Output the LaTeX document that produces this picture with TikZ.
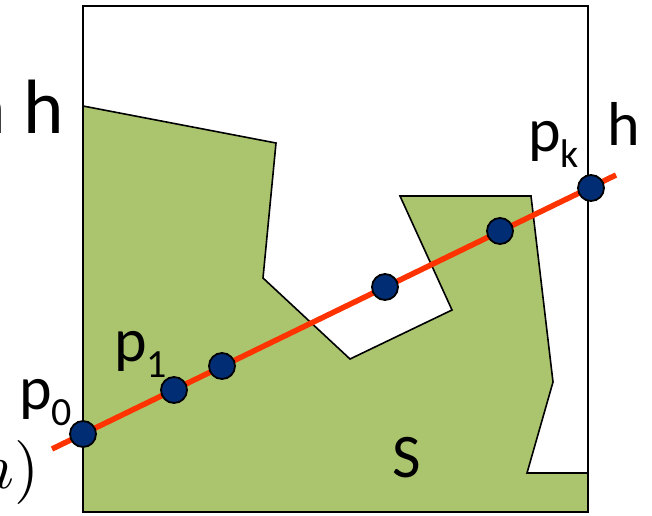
\documentclass[tikz,border=0pt]{standalone}
\usepackage{fontspec}
\setmainfont{Carlito}
\usetikzlibrary{positioning}
\definecolor{region}{RGB}{171,197,110}
\definecolor{hline}{RGB}{255,51,0}
\definecolor{ptfill}{RGB}{0,45,115}
\newcommand{\lowidx}[1]{\raisebox{-16pt}{\fontsize{40}{40}\selectfont #1}}
\tikzset{
  pt/.style={circle, draw=black, line width=1.8pt, fill=ptfill,
             minimum size=26pt, inner sep=0pt},
  lbl/.style={inner sep=0pt, anchor=base west, font=\fontsize{62}{62}\selectfont},
}
\begin{document}
\begin{tikzpicture}[x=1pt, y=-1pt]
    % --- Moldura (recorte da figura) ---
    \clip (0,0) rectangle (652,515);
    \fill[white] (0,0) rectangle (652,515);

    % --- Regiao S ---
    \fill[region] (83,106) -- (276,143) -- (263,278) -- (350,359) -- (452,310)
        -- (400,196) -- (531,196) -- (553,382) -- (527,473) -- (588,473)
        -- (588,512) -- (83,512) -- cycle;
    \draw[line width=1.6pt] (83,106) -- (276,143) -- (263,278) -- (350,359) -- (452,310)
        -- (400,196) -- (531,196) -- (553,382) -- (527,473) -- (588,473);

    % --- Caixa ---
    \draw[line width=1.6pt] (83,6) rectangle (588,512);

    % --- Reta h ---
    \coordinate (hs) at (52,449);
    \coordinate (he) at (616,175);
    \draw[hline, line width=5.5pt] (hs) -- (he);

    % --- Pontos sobre h ---
    \foreach \nm/\x/\y in {p0/83/434, p1/174/390, p2/222/366, p3/385/287,
                           p4/500/231, pk/591/188} {
      \node[pt] (\nm) at (\x,\y) {};
    }

    % --- Rotulos ---
    \node[lbl] (lp0) at (19,409) {p\lowidx{0}};
    \node[lbl] (lp1) at (114,361) {p\lowidx{1}};
    \node[lbl] (lpk) at (528,151) {p\lowidx{k}};
    \node[lbl] (lh) at (607,145) {h};
    \node[lbl] (ls) at (392,477) {S};
    \node[inner sep=0pt, anchor=base east, font=\fontsize{77}{77}\selectfont]
        (lhl) at (64,133) {n h};
    \node[inner sep=0pt, anchor=base east, scale=6.4]
        (lhm) at (41,488) {$(h)$};
  \end{tikzpicture}
\end{document}
